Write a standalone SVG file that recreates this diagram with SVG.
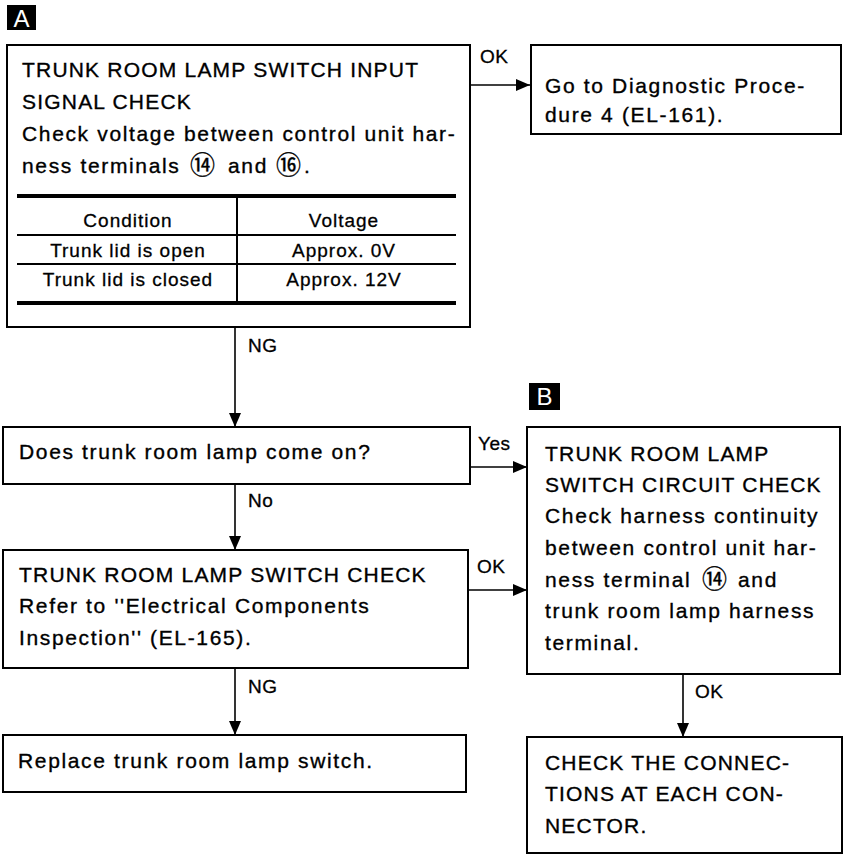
<svg xmlns="http://www.w3.org/2000/svg" width="845" height="856" viewBox="0 0 845 856">
<style>
.box{fill:#fff;stroke:#000;stroke-width:2}
.t{font-family:"Liberation Sans",Arial,sans-serif;font-size:21px;letter-spacing:1.2px;fill:#000;stroke:#000;stroke-width:0.35}
.m{letter-spacing:1.65px}
.tb{font-family:"Liberation Sans",Arial,sans-serif;font-size:19px;letter-spacing:1px;fill:#000;stroke:#000;stroke-width:0.3}
.lbl{font-family:"Liberation Sans",Arial,sans-serif;font-size:19px;letter-spacing:0.5px;fill:#000;stroke:#000;stroke-width:0.3}
.circ{font-family:"Noto Sans CJK JP","DejaVu Sans",sans-serif;font-size:25px;letter-spacing:0}
.conn{stroke:#000;stroke-width:1.6;fill:none}
.thick{stroke:#000;stroke-width:4}
.thin{stroke:#000;stroke-width:2}
.tag{fill:#000}
.tagt{font-family:"Liberation Sans",Arial,sans-serif;font-size:24px;fill:#fff;text-anchor:middle}
</style>
<defs>
<marker id="arr" markerUnits="userSpaceOnUse" markerWidth="14" markerHeight="12" refX="14" refY="6" orient="auto">
<path d="M0,0 L14,6 L0,12 z" fill="#000"/>
</marker>
</defs>

<g id="tagA">
<rect class="tag" x="7" y="5" width="29" height="25"/>
<text class="tagt" x="21.5" y="27">A</text>
</g>
<g id="tagB">
<rect class="tag" x="529" y="383" width="31" height="27"/>
<text class="tagt" x="544.5" y="405">B</text>
</g>

<g id="connectors">
<path class="conn" d="M470,85 H530" marker-end="url(#arr)"/>
<path class="conn" d="M235,327 V427" marker-end="url(#arr)"/>
<path class="conn" d="M470,467 H527" marker-end="url(#arr)"/>
<path class="conn" d="M235,484 V550" marker-end="url(#arr)"/>
<path class="conn" d="M468,590 H527" marker-end="url(#arr)"/>
<path class="conn" d="M235,668 V735" marker-end="url(#arr)"/>
<path class="conn" d="M683,674 V737" marker-end="url(#arr)"/>
<text class="lbl" x="480" y="63">OK</text>
<text class="lbl" x="248" y="352">NG</text>
<text class="lbl" x="478" y="450">Yes</text>
<text class="lbl" x="248" y="507">No</text>
<text class="lbl" x="477" y="573">OK</text>
<text class="lbl" x="248" y="693">NG</text>
<text class="lbl" x="695" y="698">OK</text>
</g>

<g id="nodeA">
<rect class="box" x="7" y="45" width="463" height="282"/>
<text class="t" x="22" y="77">TRUNK ROOM LAMP SWITCH INPUT</text>
<text class="t" x="22" y="109">SIGNAL CHECK</text>
<text class="t m" x="22" y="141">Check voltage between control unit har-</text>
<text class="t m" x="22" y="173">ness terminals<tspan class="circ" x="190" y="174">⑭</tspan><tspan x="228" y="173">and</tspan><tspan class="circ" x="276" y="174">⑯</tspan><tspan x="304" y="173">.</tspan></text>
<line class="thick" x1="17" y1="196" x2="456" y2="196"/>
<line class="thin" x1="17" y1="235" x2="456" y2="235"/>
<line class="thin" x1="17" y1="264" x2="456" y2="264"/>
<line class="thick" x1="17" y1="303" x2="456" y2="303"/>
<line class="thin" x1="237" y1="196" x2="237" y2="303"/>
<text class="tb" x="128" y="227" text-anchor="middle">Condition</text>
<text class="tb" x="344" y="227" text-anchor="middle">Voltage</text>
<text class="tb" x="128" y="257" text-anchor="middle">Trunk lid is open</text>
<text class="tb" x="344" y="257" text-anchor="middle">Approx. 0V</text>
<text class="tb" x="128" y="286" text-anchor="middle">Trunk lid is closed</text>
<text class="tb" x="344" y="286" text-anchor="middle">Approx. 12V</text>
</g>

<g id="nodeGoTo">
<rect class="box" x="531" y="45" width="310" height="89"/>
<text class="t m" x="545" y="93">Go to Diagnostic Proce-</text>
<text class="t m" x="545" y="122">dure 4 (EL-161).</text>
</g>

<g id="nodeDoes">
<rect class="box" x="3" y="427" width="467" height="57"/>
<text class="t m" x="19" y="459">Does trunk room lamp come on?</text>
</g>

<g id="nodeSwitchCheck">
<rect class="box" x="3" y="550" width="465" height="118"/>
<text class="t" x="19" y="582">TRUNK ROOM LAMP SWITCH CHECK</text>
<text class="t m" x="19" y="613">Refer to ''Electrical Components</text>
<text class="t m" x="19" y="645">Inspection'' (EL-165).</text>
</g>

<g id="nodeReplace">
<rect class="box" x="3" y="735" width="463" height="57"/>
<text class="t m" x="18" y="768">Replace trunk room lamp switch.</text>
</g>

<g id="nodeB">
<rect class="box" x="527" y="427" width="313" height="247"/>
<text class="t" x="545" y="461">TRUNK ROOM LAMP</text>
<text class="t" x="545" y="492">SWITCH CIRCUIT CHECK</text>
<text class="t m" x="545" y="523">Check harness continuity</text>
<text class="t m" x="545" y="555">between control unit har-</text>
<text class="t m" x="545" y="587">ness terminal<tspan class="circ" x="702" y="588">⑭</tspan><tspan x="738" y="587">and</tspan></text>
<text class="t m" x="545" y="618">trunk room lamp harness</text>
<text class="t m" x="545" y="650">terminal.</text>
</g>

<g id="nodeConnections">
<rect class="box" x="527" y="737" width="315" height="116"/>
<text class="t" x="545" y="770">CHECK THE CONNEC-</text>
<text class="t" x="545" y="801">TIONS AT EACH CON-</text>
<text class="t" x="545" y="833">NECTOR.</text>
</g>
</svg>
